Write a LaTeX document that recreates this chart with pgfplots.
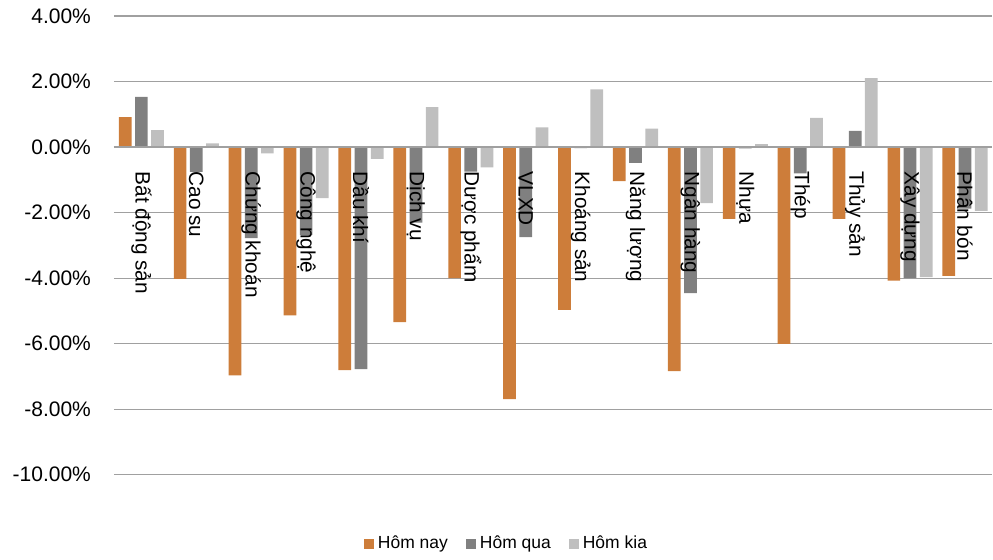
\documentclass[border=0pt]{standalone}
\usepackage{fontspec}
\setmainfont{Liberation Sans}
\usepackage{pgfplots}
\pgfplotsset{compat=1.18}
\definecolor{cnay}{RGB}{205,125,58}
\definecolor{cqua}{RGB}{128,128,128}
\definecolor{ckia}{RGB}{191,191,191}
\definecolor{cgrid}{RGB}{160,160,160}

\begin{document}
\begin{tikzpicture}
\begin{axis}[
  set layers,
  scale only axis,
  width=439.5pt, height=229.5pt,
  ybar=1.75pt, bar width=6.35pt,
  xmin=-0.5, xmax=15.5, ymin=-10, ymax=4,
  axis x line*=middle, axis y line*=left,
  x axis line style={draw=cgrid, line width=0.6pt},
  y axis line style={draw=none},
  xtick={0,...,15},
  xticklabels={Bất động sản, Cao su, Chứng khoán, Công nghệ, Dầu khí, Dịch vụ,
    Dược phẩm, VLXD, Khoáng sản, Năng lượng, Ngân hàng, Nhựa, Thép, Thủy sản,
    Xây dựng, Phân bón},
  xticklabel style={rotate=-90, anchor=west, font=\fontsize{10.4}{12}\selectfont},
  xticklabel shift=4.5pt,
  xtick style={draw=none}, ytick style={draw=none},
  ytick={-10,-8,...,4},
  hide obscured y ticks=false,
  ymajorgrids, grid style={draw=cgrid, line width=0.6pt},
  /pgf/number format/assume math mode=true,
  yticklabel={\pgfmathprintnumber[fixed,fixed zerofill,precision=2]{\tick}\%},
  yticklabel style={font=\fontsize{10.5}{12}\selectfont},
  yticklabel shift=8pt,
  legend style={at={(0.448,-0.150)}, anchor=center, draw=none,
    legend columns=3, font=\fontsize{8.75}{10}\selectfont,
    /tikz/every even column/.append style={column sep=7pt}},
  legend image code/.code={\fill[#1] (0pt,-2.5pt) rectangle (5pt,2.5pt);},
]
% bars go on the tick layer: above the grid, below the tick labels
% Hôm nay
\addplot[fill=cnay, draw=none, on layer=axis ticks] coordinates {
  (0,0.91) (1,-4.02) (2,-6.97) (3,-5.14) (4,-6.81) (5,-5.34) (6,-4.00) (7,-7.69)
  (8,-4.97) (9,-1.04) (10,-6.84) (11,-2.19) (12,-6.01) (13,-2.19) (14,-4.08) (15,-3.93)};
% Hôm qua
\addplot[fill=cqua, draw=none, on layer=axis ticks] coordinates {
  (0,1.53) (1,-0.76) (2,-2.78) (3,-2.68) (4,-6.78) (5,-2.31) (6,-0.75) (7,-2.75)
  (8,-0.03) (9,-0.48) (10,-4.46) (11,-0.04) (12,-0.80) (13,0.49) (14,-4.00) (15,-1.88)};
% Hôm kia
\addplot[fill=ckia, draw=none, on layer=axis ticks] coordinates {
  (0,0.52) (1,0.11) (2,-0.19) (3,-1.56) (4,-0.36) (5,1.22) (6,-0.62) (7,0.60)
  (8,1.76) (9,0.56) (10,-1.71) (11,0.09) (12,0.89) (13,2.10) (14,-3.97) (15,-1.95)};
\legend{Hôm nay, Hôm qua, Hôm kia}
\end{axis}
\path ([xshift=-57pt,yshift=-40.5pt]current axis.south west)
  rectangle ([yshift=8pt]current axis.north east);
\end{tikzpicture}
\end{document}
